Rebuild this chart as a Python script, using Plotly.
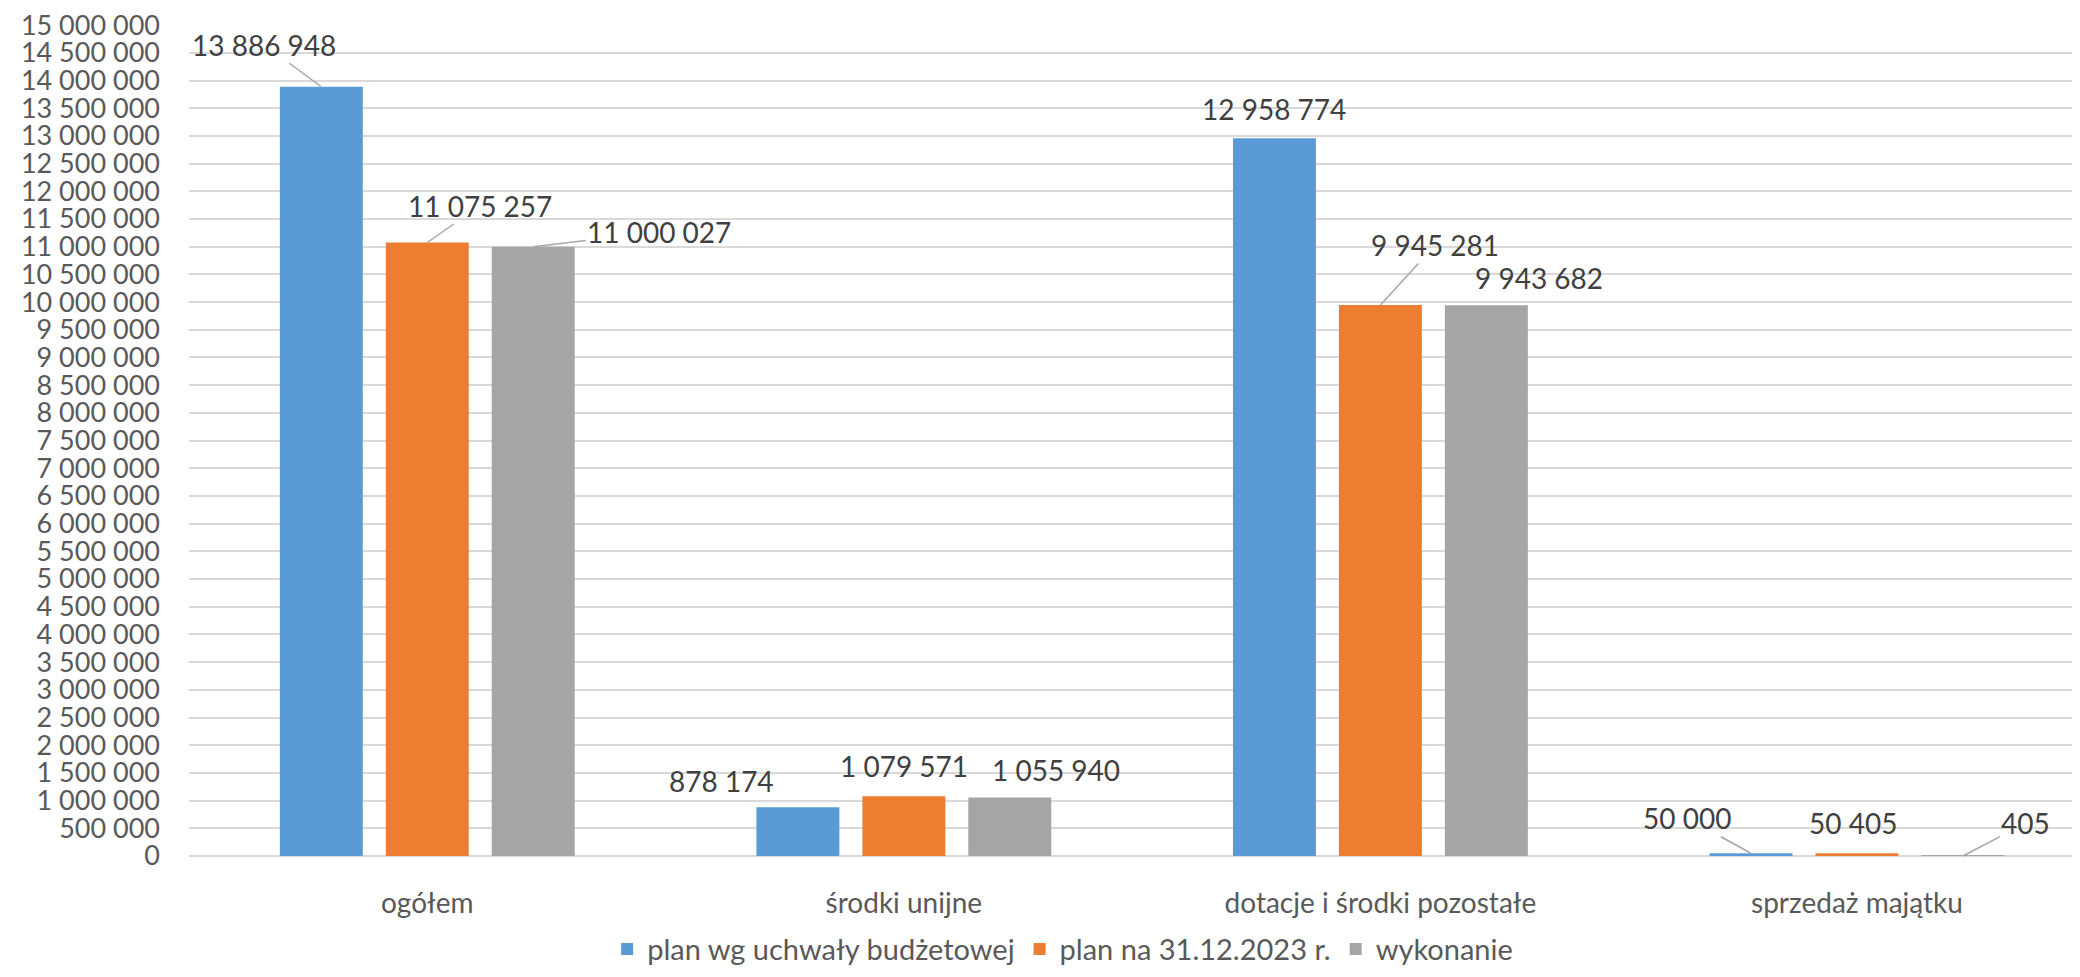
import plotly.graph_objects as go

categories = ["ogółem", "środki unijne", "dotacje i środki pozostałe", "sprzedaż majątku"]
series_names = ["plan wg uchwały budżetowej", "plan na 31.12.2023 r.", "wykonanie"]
plan_uchwala = [13886948, 878174, 12958774, 50000]
plan_3112 = [11075257, 1079571, 9945281, 50405]
wykonanie = [11000027, 1055940, 9943682, 405]
series_values = [plan_uchwala, plan_3112, wykonanie]
colors = ["#5B9BD5", "#ED7D31", "#A5A5A5"]

# label offsets (pixels) relative to bar top, and whether a leader line is shown
label_ax = [[-57, -76, 0, -64], [53, 0, 55, -4], [126, 46, 53, 63]]
label_ay = [[-42, -26, -29, -35], [-37, -30, -60, -30], [-15, -28, -27, -33]]
leader = [[True, False, False, True], [True, False, True, False], [True, False, False, True]]
bar_shift = [-106, 0, 106]

FONT = "Lato, Carlito, Calibri, sans-serif"

fig = go.Figure()
for name, vals, col in zip(series_names, series_values, colors):
    fig.add_trace(go.Bar(x=categories, y=vals, name=name, marker=dict(color=col, line=dict(width=0))))

annotations = []
for s, vals in enumerate(series_values):
    for c, v in enumerate(vals):
        annotations.append(dict(
            x=categories[c], y=v, xref="x", yref="y",
            text=f"{v:,}".replace(",", " "),
            showarrow=True, arrowhead=0, standoff=0, startstandoff=0,
            arrowwidth=1.5,
            arrowcolor="#A6A6A6" if leader[s][c] else "rgba(0,0,0,0)",
            ax=label_ax[s][c], ay=label_ay[s][c],
            xshift=bar_shift[s],
            font=dict(family=FONT, size=28, color="#404040"),
        ))

fig.update_layout(
    width=2072, height=969,
    margin=dict(l=181, r=0, t=12, b=121),
    paper_bgcolor="white", plot_bgcolor="white",
    barmode="group", bargap=0.333, bargroupgap=0.217,
    separators=", ",
    font=dict(family=FONT, size=28, color="#595959"),
    annotations=annotations,
    showlegend=True,
    legend=dict(orientation="h", x=0.462, xanchor="center", y=-0.112, yanchor="middle",
                font=dict(family=FONT, size=29, color="#595959"),
                traceorder="normal"),
)
fig.update_xaxes(range=[-0.5, 3.468], showgrid=False, showline=False, zeroline=False,
                 ticks="", ticklabelstandoff=28,
                 tickfont=dict(family=FONT, size=28, color="#595959"))
fig.update_yaxes(range=[0, 15002000], dtick=500000, tick0=0, tickformat=",d",
                 showgrid=True, gridcolor="#D9D9D9", gridwidth=2,
                 zeroline=True, zerolinecolor="#D9D9D9", zerolinewidth=2,
                 showline=False, ticks="", ticklabelstandoff=28,
                 ticklabeloverflow="allow",
                 tickfont=dict(family=FONT, size=27, color="#595959"))

fig.write_html("out.html")
